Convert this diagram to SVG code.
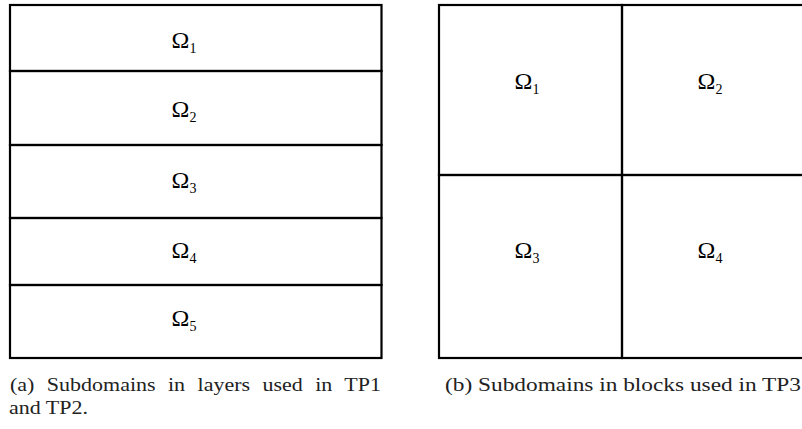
<svg xmlns="http://www.w3.org/2000/svg" width="802" height="429" viewBox="0 0 802 429">
<style>
.b{fill:none;stroke:#000;stroke-width:2.2}
.o{font-family:'Liberation Serif','DejaVu Serif',serif;font-size:24px;fill:#000;text-anchor:middle}
.s{font-size:14px}
.c{font-family:'Liberation Serif','DejaVu Serif',serif;font-size:19px;fill:#222}
</style>
<rect width="802" height="429" fill="#fff"/>
<g id="layers">
<g id="L1"><rect class="b" x="10" y="5" width="371.5" height="66"/><text class="o" x="184" y="48">Ω<tspan class="s" dy="5">1</tspan></text></g>
<g id="L2"><rect class="b" x="10" y="71" width="371.5" height="74"/><text class="o" x="184" y="117">Ω<tspan class="s" dy="5">2</tspan></text></g>
<g id="L3"><rect class="b" x="10" y="145" width="371.5" height="73"/><text class="o" x="184" y="188">Ω<tspan class="s" dy="5">3</tspan></text></g>
<g id="L4"><rect class="b" x="10" y="218" width="371.5" height="67"/><text class="o" x="184" y="258">Ω<tspan class="s" dy="5">4</tspan></text></g>
<g id="L5"><rect class="b" x="10" y="285" width="371.5" height="73"/><text class="o" x="184" y="326">Ω<tspan class="s" dy="5">5</tspan></text></g>
</g>
<g id="blocks">
<g id="B1"><rect class="b" x="439" y="5" width="183" height="170"/><text class="o" x="527" y="89">Ω<tspan class="s" dy="5">1</tspan></text></g>
<g id="B2"><rect class="b" x="622" y="5" width="183" height="170"/><text class="o" x="710" y="89">Ω<tspan class="s" dy="5">2</tspan></text></g>
<g id="B3"><rect class="b" x="439" y="175" width="183" height="183"/><text class="o" x="527" y="258">Ω<tspan class="s" dy="5">3</tspan></text></g>
<g id="B4"><rect class="b" x="622" y="175" width="183" height="183"/><text class="o" x="710" y="258">Ω<tspan class="s" dy="5">4</tspan></text></g>
</g>
<text class="c" x="10" y="391" textLength="371" lengthAdjust="spacingAndGlyphs" word-spacing="6">(a) Subdomains in layers used in TP1</text>
<text class="c" x="9" y="414" textLength="79" lengthAdjust="spacingAndGlyphs">and TP2.</text>
<text class="c" x="445" y="391" textLength="356" lengthAdjust="spacingAndGlyphs">(b) Subdomains in blocks used in TP3</text>
</svg>
